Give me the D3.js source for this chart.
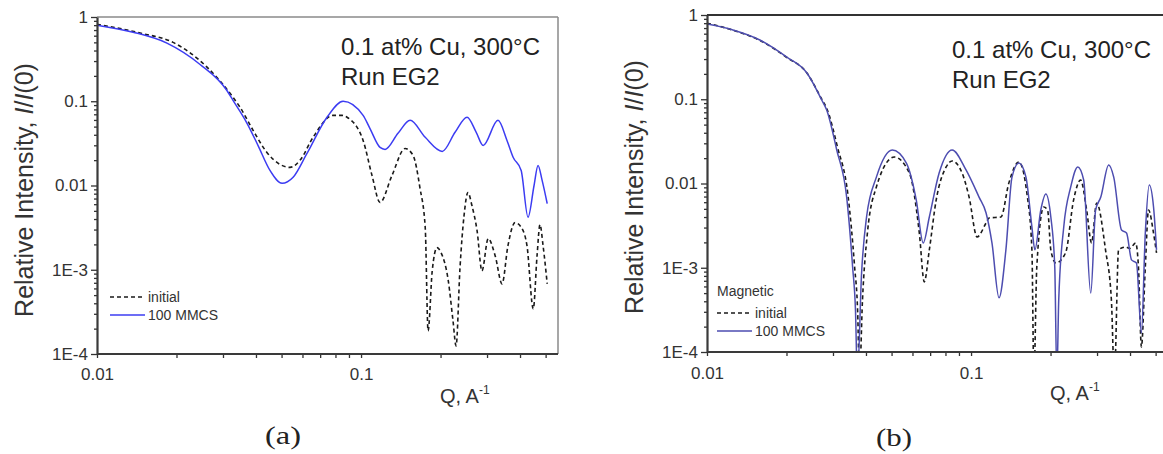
<!DOCTYPE html>
<html><head><meta charset="utf-8">
<script src="https://cdn.jsdelivr.net/npm/d3@7"></script>
<style>
html,body{margin:0;padding:0;background:#fff;}
svg{display:block;}
</style></head>
<body>
<svg id="chart" width="1163" height="454"></svg>
<script>
// ---------- DATA ----------
// Panel (a): initial (dashed) and 100 MMCS (solid)
const qA_initial = [0.01,0.01456,0.0194,0.0261,0.0327,0.0348,0.039,0.044,0.0493,0.0538,0.0587,0.0658,0.0783,0.0847,0.0885,0.1018,0.110,0.118,0.131,0.1468,0.1574,0.167,0.175,0.1794,0.186,0.194,0.201,0.214,0.223,0.229,0.237,0.2455,0.254,0.263,0.275,0.287,0.303,0.322,0.342,0.360,0.383,0.407,0.425,0.449,0.464,0.476,0.489,0.507];
const iA_initial = [0.82,0.645,0.50,0.254,0.112,0.085,0.0452,0.0247,0.0178,0.0164,0.0199,0.0373,0.068,0.068,0.0645,0.0343,0.0132,0.0063,0.0132,0.0275,0.0228,0.0095,0.00316,0.000188,0.00097,0.00183,0.00159,0.00074,0.000247,0.000125,0.00106,0.0044,0.00826,0.00578,0.00291,0.00097,0.00234,0.00147,0.00068,0.00193,0.00363,0.00308,0.00193,0.000344,0.00147,0.00343,0.00193,0.00068];
const qA_mmcs = [0.01,0.0137,0.0184,0.0245,0.031,0.0327,0.037,0.0407,0.0452,0.0502,0.0553,0.0624,0.0743,0.0855,0.1018,0.108,0.118,0.1233,0.138,0.1534,0.175,0.203,0.227,0.252,0.273,0.29,0.33,0.357,0.377,0.404,0.429,0.452,0.468,0.485,0.507];
const iA_mmcs = [0.80,0.66,0.49,0.275,0.135,0.103,0.0547,0.030,0.0151,0.0106,0.0125,0.024,0.0645,0.100,0.068,0.0477,0.0283,0.0268,0.0416,0.0594,0.0373,0.0254,0.0428,0.0645,0.0428,0.0299,0.0594,0.0343,0.0215,0.0151,0.0042,0.010,0.0173,0.0115,0.0061];

// Panel (b): magnetic, initial (dashed) and 100 MMCS (solid)
const qB_initial = [0.01,0.01254,0.01585,0.02,0.0239,0.0272,0.0284,0.0312,0.0342,0.0362,0.0372,0.0378,0.0388,0.0405,0.0438,0.0512,0.0584,0.0637,0.0665,0.0695,0.0738,0.0805,0.0848,0.0925,0.0983,0.1054,0.114,0.117,0.1298,0.139,0.1518,0.1627,0.170,0.173,0.1774,0.1885,0.195,0.2005,0.2094,0.228,0.2446,0.26,0.274,0.286,0.299,0.323,0.34,0.349,0.362,0.384,0.40,0.42,0.4305,0.4417,0.457,0.47,0.491,0.504];
const iB_initial = [0.80,0.66,0.50,0.315,0.205,0.10,0.078,0.027,0.0072,0.00105,0.0003,0.00005,0.000414,0.00258,0.0091,0.0206,0.0133,0.00258,0.00068,0.00163,0.0064,0.0157,0.0185,0.0133,0.0069,0.00232,0.0034,0.0039,0.004,0.0101,0.018,0.0077,0.00163,0.00005,0.00102,0.00526,0.0048,0.00163,0.00114,0.0015,0.0064,0.011,0.00485,0.00197,0.00587,0.00163,0.000414,0.00005,0.00163,0.00176,0.0017,0.00197,0.00102,0.000115,0.00102,0.00485,0.00258,0.0015];
const qB_mmcs = [0.01,0.01254,0.01585,0.02,0.0239,0.0272,0.0284,0.031,0.0338,0.0356,0.0365,0.0371,0.0385,0.0402,0.0438,0.0503,0.0569,0.062,0.0659,0.0695,0.0757,0.0848,0.0957,0.1072,0.114,0.12,0.1276,0.1355,0.1429,0.1518,0.1614,0.170,0.1745,0.1837,0.1919,0.2005,0.2075,0.2113,0.2148,0.2244,0.2385,0.2535,0.267,0.284,0.2963,0.31,0.332,0.347,0.3715,0.388,0.4053,0.423,0.4417,0.457,0.473,0.491,0.504];
const iB_mmcs = [0.78,0.664,0.505,0.318,0.205,0.098,0.0745,0.025,0.0069,0.00102,0.000315,0.00005,0.00087,0.004,0.0119,0.025,0.0175,0.0064,0.00197,0.004,0.0133,0.025,0.0145,0.0069,0.00447,0.00197,0.00044,0.00163,0.0119,0.0175,0.0119,0.00305,0.00163,0.00485,0.0075,0.004,0.00102,0.00005,0.000414,0.00305,0.0091,0.0157,0.011,0.0005,0.00485,0.0069,0.0166,0.0119,0.0028,0.00258,0.00124,0.00114,0.000168,0.00258,0.0096,0.00526,0.00163];

// Tick values / labels
const yTickValues = [1, 0.1, 0.01, 0.001, 0.0001];
const yTickLabels = ["1", "0.1", "0.01", "1E-3", "1E-4"];
const xTickValues = [0.01, 0.1];
const xTickLabels = ["0.01", "0.1"];
const xMinorTicks = [0.02,0.03,0.04,0.05,0.06,0.07,0.08,0.09,0.2,0.3,0.4,0.5];
const yMinorMult = [2,3,4,5,6,7,8,9];

const seriesNames = ["initial", "100 MMCS"];
const annotation = ["0.1 at% Cu, 300\u00B0C", "Run EG2"];
const panelLabels = ["(a)", "(b)"];

// ---------- DRAW ----------
const svg = d3.select("#chart");
const FONT = "'Liberation Sans', Arial, Helvetica, sans-serif";

const yMinorTicks = [];
[0.0001, 0.001, 0.01, 0.1].forEach(d => yMinorMult.forEach(m => yMinorTicks.push(+(d*m).toPrecision(3))));

function zip(q, v){ return q.map((d,i)=>({q:d, v:v[i]})); }

function panel(cfg){
  const g = svg.append("g");
  const x = d3.scaleLog().domain([0.01, 0.557]).range([cfg.left, cfg.left + 461]);
  const y = d3.scaleLog().domain([1e-4, 1]).range([cfg.bottom, cfg.top]);
  const right = Math.min(cfg.left + 461, 1163);

  // clip
  const cid = "clip" + cfg.id;
  svg.append("clipPath").attr("id", cid).append("rect")
    .attr("x", cfg.left).attr("y", cfg.top).attr("width", right - cfg.left).attr("height", cfg.bottom - cfg.top);

  // frame (top/right)
  g.append("line").attr("x1", cfg.left).attr("x2", right).attr("y1", cfg.top).attr("y2", cfg.top)
    .attr("stroke", cfg.topColor).attr("stroke-width", cfg.topWidth);
  if (cfg.rightFrame) {
    g.append("line").attr("x1", cfg.left + 461).attr("x2", cfg.left + 461).attr("y1", cfg.top).attr("y2", cfg.bottom)
      .attr("stroke", "#8a8a8a").attr("stroke-width", 1.5);
  }

  const line = d3.line().x(d => x(d.q)).y(d => y(d.v)).curve(d3.curveMonotoneX);
  const plot = g.append("g").attr("clip-path", `url(#${cid})`);
  plot.append("path").datum(zip(cfg.qi, cfg.ii)).attr("d", line)
    .attr("fill", "none").attr("stroke", "#1a1a1a").attr("stroke-width", 1.6).attr("stroke-dasharray", "4,3");
  plot.append("path").datum(zip(cfg.qm, cfg.im)).attr("d", line)
    .attr("fill", "none").attr("stroke", cfg.blue).attr("stroke-width", 1.5);

  // y axis
  const yMinor = g.append("g").attr("transform", `translate(${cfg.left},0)`)
    .call(d3.axisLeft(y).tickValues(yMinorTicks).tickFormat("").tickSize(3).tickSizeOuter(0));
  yMinor.select(".domain").remove();
  const yAx = g.append("g").attr("transform", `translate(${cfg.left},0)`)
    .call(d3.axisLeft(y).tickValues(yTickValues).tickFormat((d,i)=>yTickLabels[i]).tickSize(6).tickPadding(3).tickSizeOuter(0));
  // x axis
  const xMinor = g.append("g").attr("transform", `translate(0,${cfg.bottom})`)
    .call(d3.axisBottom(x).tickValues(xMinorTicks).tickFormat("").tickSize(4).tickSizeOuter(0));
  xMinor.select(".domain").remove();
  const xAx = g.append("g").attr("transform", `translate(0,${cfg.bottom})`)
    .call(d3.axisBottom(x).tickValues(xTickValues).tickFormat((d,i)=>xTickLabels[i]).tickSize(4).tickPadding(cfg.xPad).tickSizeOuter(0));

  [yMinor, yAx, xMinor, xAx].forEach(a => {
    a.selectAll(".tick line").attr("stroke", "#333").attr("stroke-width", 1.3);
    a.selectAll("text").attr("font-family", FONT).attr("font-size", 17).attr("fill", "#333");
  });
  [yAx, xAx].forEach(a => a.select(".domain").attr("stroke", "#3a3a3a").attr("stroke-width", 2.2));
  xAx.select(".domain").attr("d", `M${cfg.left},0H${right}`);

  // y label
  const yl = g.append("text").attr("transform", `translate(${cfg.ylabX},${cfg.ylabY}) rotate(-90)`)
    .attr("text-anchor", "middle").attr("font-family", FONT).attr("font-size", 25).attr("fill", "#333");
  yl.append("tspan").text("Relative Intensity, ");
  yl.append("tspan").attr("font-style", "italic").text("I");
  yl.append("tspan").text("/");
  yl.append("tspan").attr("font-style", "italic").text("I");
  yl.append("tspan").text("(0)");

  // x label
  const xl = g.append("text").attr("x", cfg.xlabX).attr("y", cfg.xlabY)
    .attr("font-family", FONT).attr("font-size", 20).attr("fill", "#333");
  xl.append("tspan").text("Q, A");
  xl.append("tspan").attr("font-size", 12).attr("dy", -9).text("-1");

  // annotation
  annotation.forEach((t,i) => {
    g.append("text").attr("x", cfg.annX).attr("y", cfg.annY + i*30)
      .attr("font-family", FONT).attr("font-size", 24).attr("fill", "#222").text(t);
  });

  // legend
  let ly = cfg.legY;
  if (cfg.legTitle) {
    g.append("text").attr("x", cfg.legX).attr("y", ly - 13).attr("font-family", FONT)
      .attr("font-size", 14).attr("fill", "#333").text(cfg.legTitle);
    ly += 4;
  }
  g.append("line").attr("x1", cfg.legX).attr("x2", cfg.legX + cfg.legLen).attr("y1", ly).attr("y2", ly)
    .attr("stroke", "#1a1a1a").attr("stroke-width", 1.4).attr("stroke-dasharray", "4,3");
  g.append("text").attr("x", cfg.legX + cfg.legLen + 3).attr("y", ly + 5).attr("font-family", FONT)
    .attr("font-size", 14).attr("fill", "#333").text(seriesNames[0]);
  g.append("line").attr("x1", cfg.legX).attr("x2", cfg.legX + cfg.legLen).attr("y1", ly + 18).attr("y2", ly + 18)
    .attr("stroke", cfg.blue).attr("stroke-width", 1.5);
  g.append("text").attr("x", cfg.legX + cfg.legLen + 3).attr("y", ly + 23).attr("font-family", FONT)
    .attr("font-size", 14).attr("fill", "#333").text(seriesNames[1]);

  // panel label
  g.append("text").attr("x", cfg.pX).attr("y", cfg.pY).attr("text-anchor", "middle")
    .attr("font-family", "'Liberation Serif', 'Times New Roman', serif").attr("font-size", 25)
    .attr("fill", "#222").attr("textLength", 36).attr("lengthAdjust", "spacingAndGlyphs").text(cfg.pLabel);
}

panel({id:"a", left:97, top:17, bottom:354, rightFrame:true, topColor:"#8a8a8a", topWidth:1.5,
  qi:qA_initial, ii:iA_initial, qm:qA_mmcs, im:iA_mmcs, blue:"#3c3cf2",
  xPad:10, ylabX:33, ylabY:190, xlabX:440, xlabY:403, annX:341, annY:55,
  legX:110, legY:297, legLen:35, legTitle:null, pX:283, pY:444, pLabel:panelLabels[0]});

panel({id:"b", left:707, top:15, bottom:352, rightFrame:false, topColor:"#333", topWidth:2,
  qi:qB_initial, ii:iB_initial, qm:qB_mmcs, im:iB_mmcs, blue:"#4d4db0",
  xPad:11, ylabX:643, ylabY:187, xlabX:1050, xlabY:400, annX:952, annY:58,
  legX:717, legY:309, legLen:35, legTitle:"Magnetic", pX:894, pY:446, pLabel:panelLabels[1]});
</script>
</body></html>
